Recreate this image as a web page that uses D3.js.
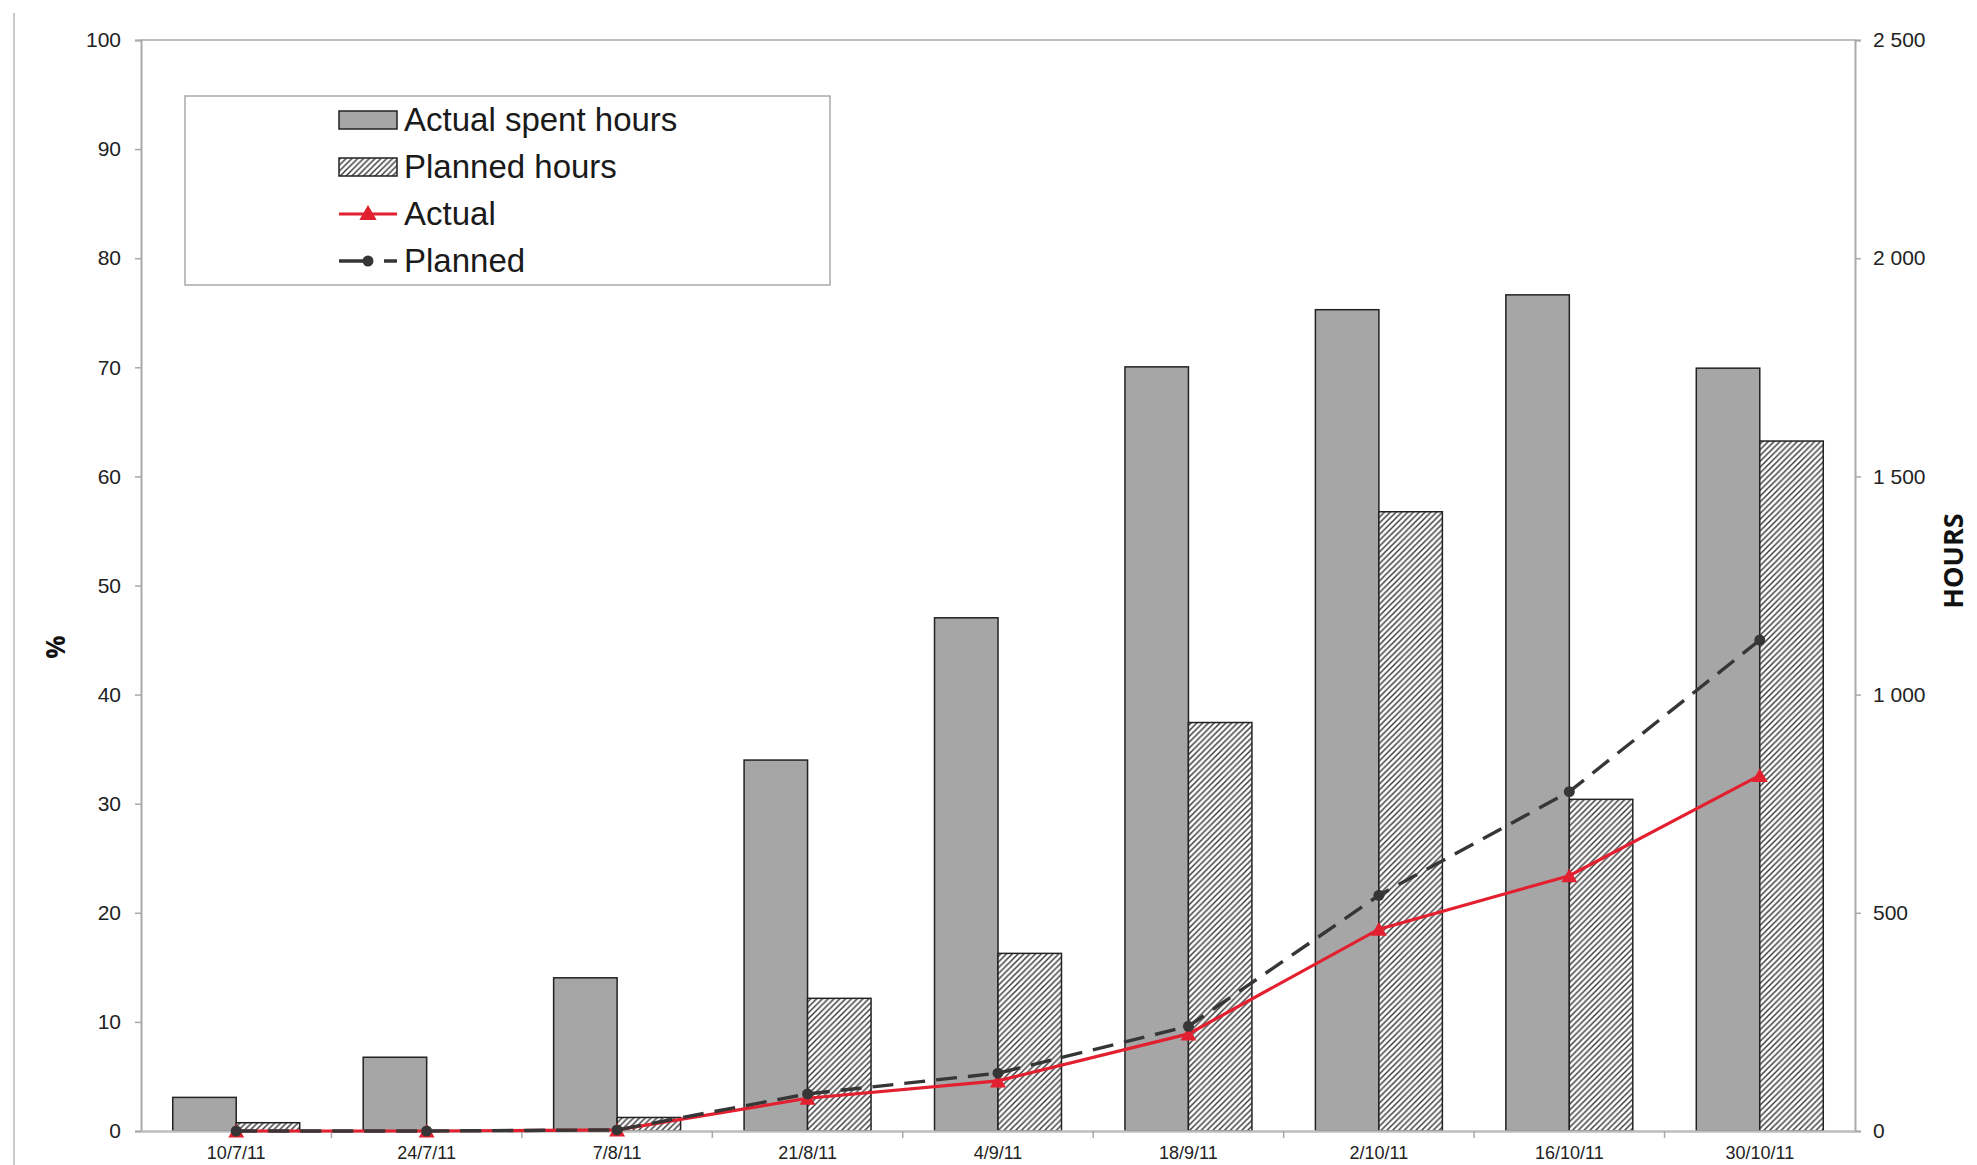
<!DOCTYPE html>
<html>
<head>
<meta charset="utf-8">
<script src="https://cdn.jsdelivr.net/npm/d3@7"></script>
<style>
  body { margin: 0; background: #fff; }
  svg { display: block; }
</style>
</head>
<body>
<div id="chart"></div>
<script>
// data
const dates = ["10/7/11", "24/7/11", "7/8/11", "21/8/11", "4/9/11", "18/9/11", "2/10/11", "16/10/11", "30/10/11"];
const actualHours = [77, 169, 351, 850, 1176, 1751, 1882, 1916, 1748];
const plannedHours = [19, 0, 31, 304, 407, 936, 1419, 760, 1581];
const actualPct = [0, 0, 0.1, 3.0, 4.6, 8.9, 18.5, 23.4, 32.6];
const plannedPct = [0, 0, 0.1, 3.4, 5.3, 9.6, 21.6, 31.1, 45.0];
const pctTicks = [0, 10, 20, 30, 40, 50, 60, 70, 80, 90, 100];
const hourTicks = [0, 500, 1000, 1500, 2000, 2500];
const legendItems = ["Actual spent hours", "Planned hours", "Actual", "Planned"];

const width = 1977;
const height = 1165;
const plotLeft = 141, plotRight = 1855, plotTop = 40, plotBottom = 1131;
const axisGrey = "#a9a9a9";
const red = "#e2202f";
const dark = "#363636";

const svg = d3.select("#chart")
  .append("svg")
  .attr("width", width)
  .attr("height", height)
  .style("font-family", "'Liberation Sans', Arial, sans-serif");

// hatch pattern
const hs = 5.8;
const defs = svg.append("defs");
defs.append("pattern")
  .attr("id", "hatch")
  .attr("patternUnits", "userSpaceOnUse")
  .attr("width", hs)
  .attr("height", hs)
  .call(p => {
    p.append("rect").attr("width", hs).attr("height", hs).attr("fill", "#fff");
    p.append("path")
      .attr("d", `M0,${hs} L${hs},0 M-1,1 L1,-1 M${hs - 1},${hs + 1} L${hs + 1},${hs - 1}`)
      .attr("stroke", "#3c3c3c")
      .attr("stroke-width", 1.5);
  });

// scales
const x = d3.scaleBand().domain(dates).range([plotLeft, plotRight]).padding(0);
const bw = x.bandwidth();
const yPct = d3.scaleLinear().domain([0, 100]).range([plotBottom, plotTop]);
const yHours = d3.scaleLinear().domain([0, 2500]).range([plotBottom, plotTop]);

// outer frame line at the far left
svg.append("line")
  .attr("x1", 14).attr("x2", 14)
  .attr("y1", 13).attr("y2", height)
  .attr("stroke", "#c9c9c9")
  .attr("stroke-width", 2);

// top border of the plot
svg.append("line")
  .attr("x1", plotLeft).attr("x2", plotRight)
  .attr("y1", plotTop).attr("y2", plotTop)
  .attr("stroke", axisGrey)
  .attr("stroke-width", 1.5);

// bars
const bars = svg.append("g");
bars.selectAll(".actual-bar")
  .data(dates)
  .enter().append("rect")
  .attr("class", "actual-bar")
  .attr("x", d => x(d) + bw / 6)
  .attr("width", bw / 3)
  .attr("y", (d, i) => yHours(actualHours[i]))
  .attr("height", (d, i) => plotBottom - yHours(actualHours[i]))
  .attr("fill", "#a6a6a6")
  .attr("stroke", "#222")
  .attr("stroke-width", 1.5);

bars.selectAll(".planned-bar")
  .data(dates.filter((d, i) => plannedHours[i] > 0))
  .enter().append("rect")
  .attr("class", "planned-bar")
  .attr("x", d => x(d) + bw / 2)
  .attr("width", bw / 3)
  .attr("y", d => yHours(plannedHours[dates.indexOf(d)]))
  .attr("height", d => plotBottom - yHours(plannedHours[dates.indexOf(d)]))
  .attr("fill", "url(#hatch)")
  .attr("stroke", "#222")
  .attr("stroke-width", 1.5);

// axes
const fmtHours = d => d3.format(",")(d).replace(",", " ");

const leftAxis = svg.append("g")
  .attr("transform", `translate(${plotLeft},0)`)
  .call(d3.axisLeft(yPct).tickValues(pctTicks).tickSize(6).tickPadding(14));
const rightAxis = svg.append("g")
  .attr("transform", `translate(${plotRight},0)`)
  .call(d3.axisRight(yHours).tickValues(hourTicks).tickSize(6).tickPadding(12).tickFormat(fmtHours));
[leftAxis, rightAxis].forEach(g => {
  g.select(".domain").attr("stroke", axisGrey).attr("stroke-width", 2);
  g.selectAll(".tick line").attr("stroke", axisGrey).attr("stroke-width", 1.5);
  g.selectAll(".tick text")
    .attr("fill", "#222")
    .style("font-size", "21px")
    .style("font-family", "'Liberation Sans', Arial, sans-serif");
});

// x axis: labels at band centres, ticks on band boundaries
const xAxis = svg.append("g")
  .attr("transform", `translate(0,${plotBottom})`)
  .call(d3.axisBottom(x).tickSize(0).tickPadding(15).tickSizeOuter(0));
xAxis.select(".domain").attr("stroke", "#bdbdbd").attr("stroke-width", 2.5);
xAxis.selectAll(".tick text")
  .attr("fill", "#222")
  .style("font-size", "18px")
  .style("font-family", "'Liberation Sans', Arial, sans-serif");
svg.append("g")
  .selectAll("line")
  .data(dates.slice(1))
  .enter().append("line")
  .attr("x1", d => x(d)).attr("x2", d => x(d))
  .attr("y1", plotBottom).attr("y2", plotBottom + 7)
  .attr("stroke", axisGrey)
  .attr("stroke-width", 1.5);

// axis titles
svg.append("text")
  .attr("transform", "translate(55,647) rotate(-90)")
  .attr("text-anchor", "middle")
  .attr("dominant-baseline", "central")
  .style("font-family", "'Open Sans', sans-serif")
  .style("font-weight", "bold")
  .style("font-size", "26px")
  .attr("fill", "#111")
  .text("%");
svg.append("text")
  .attr("transform", "translate(1952,561) rotate(-90)")
  .attr("text-anchor", "middle")
  .attr("dominant-baseline", "central")
  .style("font-family", "'Open Sans', sans-serif")
  .style("font-weight", "bold")
  .style("font-size", "27px")
  .attr("fill", "#111")
  .text("HOURS");

// lines
const cx = i => x(dates[i]) + bw / 2;
const line = d3.line().x((d, i) => cx(i));

svg.append("path")
  .datum(actualPct)
  .attr("d", line.y(d => yPct(d)))
  .attr("fill", "none")
  .attr("stroke", red)
  .attr("stroke-width", 3.2);
svg.append("g")
  .selectAll("path")
  .data(actualPct)
  .enter().append("path")
  .attr("transform", (d, i) => `translate(${cx(i)},${yPct(d) + 2})`)
  .attr("d", d3.symbol().type(d3.symbolTriangle).size(110))
  .attr("fill", red);

svg.append("path")
  .datum(plannedPct)
  .attr("d", line.y(d => yPct(d)))
  .attr("fill", "none")
  .attr("stroke", dark)
  .attr("stroke-width", 3.4)
  .attr("stroke-dasharray", "21,11");
svg.append("g")
  .selectAll("circle")
  .data(plannedPct)
  .enter().append("circle")
  .attr("cx", (d, i) => cx(i))
  .attr("cy", d => yPct(d))
  .attr("r", 5.5)
  .attr("fill", dark);

// legend
const legend = svg.append("g");
legend.append("rect")
  .attr("x", 185).attr("y", 96)
  .attr("width", 645).attr("height", 189)
  .attr("fill", "#fff")
  .attr("stroke", axisGrey)
  .attr("stroke-width", 1.5);

const rowY = [120, 167, 214, 261];
const symX = 339, symW = 58;

legend.append("rect")
  .attr("x", symX).attr("y", rowY[0] - 9)
  .attr("width", symW).attr("height", 18)
  .attr("fill", "#a6a6a6").attr("stroke", "#222").attr("stroke-width", 1.5);
legend.append("rect")
  .attr("x", symX).attr("y", rowY[1] - 9)
  .attr("width", symW).attr("height", 18)
  .attr("fill", "url(#hatch)").attr("stroke", "#222").attr("stroke-width", 1.5);
legend.append("line")
  .attr("x1", symX).attr("x2", symX + symW)
  .attr("y1", rowY[2]).attr("y2", rowY[2])
  .attr("stroke", red).attr("stroke-width", 3.2);
legend.append("path")
  .attr("transform", `translate(${symX + symW / 2},${rowY[2] + 1})`)
  .attr("d", d3.symbol().type(d3.symbolTriangle).size(130))
  .attr("fill", red);
legend.append("line")
  .attr("x1", symX).attr("x2", symX + symW)
  .attr("y1", rowY[3]).attr("y2", rowY[3])
  .attr("stroke", dark).attr("stroke-width", 3.4)
  .attr("stroke-dasharray", "30,15,13");
legend.append("circle")
  .attr("cx", symX + 29).attr("cy", rowY[3])
  .attr("r", 5.5).attr("fill", dark);

legend.selectAll(".legend-text")
  .data(legendItems)
  .enter().append("text")
  .attr("class", "legend-text")
  .attr("x", 404)
  .attr("y", (d, i) => rowY[i] + 11)
  .style("font-size", "33px")
  .attr("fill", "#1a1a1a")
  .text(d => d);
</script>
</body>
</html>
